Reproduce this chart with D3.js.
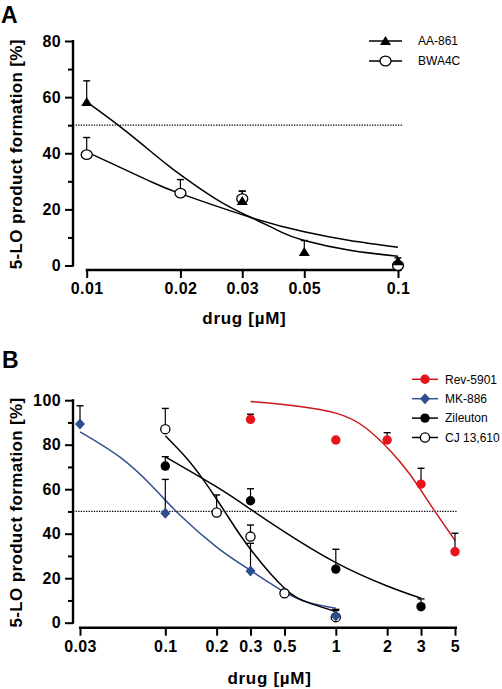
<!DOCTYPE html>
<html><head><meta charset="utf-8">
<script src="https://cdn.jsdelivr.net/npm/d3@7"></script>
<style>
body{margin:0;background:#fff;}
svg{display:block;font-family:"Liberation Sans",Arial,sans-serif;}
.tick text{font-weight:bold;font-size:16px;fill:#000;letter-spacing:0.4px;}
</style></head><body>
<svg id="chart" width="502" height="689"></svg>
<script>
// ---------- Panel A data ----------
const aTickVals = [0.01, 0.02, 0.0316, 0.05, 0.1];
const aTickLabels = ["0.01", "0.02", "0.03", "0.05", "0.1"];
const aYMajor = [0, 20, 40, 60, 80];
const aYMinor = [10, 30, 50, 70];
const aSeriesNames = ["AA-861", "BWA4C"];
// points: [x, mean, top of error bar]
const aa861Pts = [[0.01, 58.3, 65.8], [0.0316, 23.0, 26.5], [0.05, 4.8, 8.9], [0.1, 1.5, 2.7]];
const bwa4cPts = [[0.01, 39.5, 45.6], [0.02, 25.8, 30.6], [0.0316, 23.8, 26.5], [0.1, 0, 0]];
// fitted curves
const aa861Fit = [[0.01, 58.3], [0.0128, 49.5], [0.016, 40.8], [0.019, 34.2], [0.0262, 23.5], [0.0335, 17.3], [0.042, 12.0], [0.05, 8.9], [0.07, 5.4], [0.1, 3.3]];
const bwa4cFit = [[0.01, 40.5], [0.016, 30], [0.02, 25.6], [0.0335, 17.2], [0.05, 12], [0.07, 8.9], [0.1, 6.5]];

// ---------- Panel B data ----------
const bTickVals = [0.0316, 0.1, 0.2, 0.316, 0.5, 1, 2, 3.16, 5];
const bTickLabels = ["0.03", "0.1", "0.2", "0.3", "0.5", "1", "2", "3", "5"];
const bYMajor = [0, 20, 40, 60, 80, 100];
const bYMinor = [10, 30, 50, 70, 90];
const bSeriesNames = ["Rev-5901", "MK-886", "Zileuton", "CJ 13,610"];
const revPts = [[0.316, 91.4, 93.7], [1, 82.1, 82.1], [2, 82.1, 85.4], [3.16, 62.3, 69.4], [5, 31.9, 40.2]];
const mkPts = [[0.0316, 89.3, 97.5], [0.1, 49.2, 64.4], [0.316, 23.2, 35.7], [1, 3.0, 6.0]];
const zilPts = [[0.1, 70.4, 74.6], [0.316, 54.8, 60.2], [1, 24.1, 33.0], [3.16, 7.2, 10.7]];
const cjPts = [[0.1, 87.0, 96.3], [0.2, 49.5, 57.4], [0.316, 38.7, 43.9], [0.5, 13.2, 13.2], [1, 2.5, 5.5]];
const revFit = [[0.316, 99.4], [0.615, 97.2], [1, 94.2], [1.5, 87.5], [2.37, 72.5], [3.1, 60.5], [3.7, 51.5], [5, 37]];
const mkFit = [[0.0316, 85.8], [0.054, 74.5], [0.0846, 61], [0.1213, 48.5], [0.2, 34], [0.316, 23.5], [0.5, 13.8], [0.7, 9], [1, 6.5]];
const zilFit = [[0.1, 74.5], [0.2, 61], [0.316, 51], [0.5, 40.8], [1, 27], [2, 16.5], [3.16, 11]];
const cjFit = [[0.1, 84], [0.133, 74], [0.166, 64.5], [0.2, 55.5], [0.2386, 46.5], [0.316, 33], [0.5, 15.5], [0.7, 8.8], [1, 5]];

const RED = "#e8141c", RED_LINE = "#cc1717", BLUE = "#2f4c8f", BLUE_LINE = "#34518f";

const svg = d3.select("#chart");

function drawMarker(g, type, cx, cy, color) {
  if (type === "tri") {
    g.append("path").attr("d", `M${cx - 5.5},${cy + 4}L${cx + 5.5},${cy + 4}L${cx},${cy - 5}Z`).attr("fill", "#000");
  } else if (type === "oval") {
    g.append("ellipse").attr("cx", cx).attr("cy", cy).attr("rx", 5.5).attr("ry", 4.8)
      .attr("fill", "#fff").attr("stroke", "#000").attr("stroke-width", 1.3);
  } else if (type === "dot") {
    g.append("circle").attr("cx", cx).attr("cy", cy).attr("r", 4.7).attr("fill", color);
  } else if (type === "open") {
    g.append("circle").attr("cx", cx).attr("cy", cy).attr("r", 4.6)
      .attr("fill", "#fff").attr("stroke", "#000").attr("stroke-width", 1.3);
  } else if (type === "diamond") {
    g.append("path").attr("d", `M${cx},${cy - 5.5}L${cx + 5},${cy}L${cx},${cy + 5.5}L${cx - 5},${cy}Z`).attr("fill", color);
  }
}

function drawPanel(cfg) {
  const g = svg.append("g");
  const x = d3.scaleLog().domain(cfg.xDomain).range(cfg.xRange);
  const y = d3.scaleLinear().domain(cfg.yDomain).range(cfg.yRange);

  // dotted 50% line
  g.append("line").attr("x1", cfg.yAxisX).attr("x2", cfg.dotEnd)
    .attr("y1", y(50)).attr("y2", y(50))
    .attr("stroke", "#000").attr("stroke-width", 1.2).attr("stroke-dasharray", "1.3,1.3");

  // y axis
  const ya = g.append("g").attr("transform", `translate(${cfg.yAxisX},0)`)
    .call(d3.axisLeft(y).tickValues(cfg.yMajor).tickSize(8).tickPadding(4).tickFormat(d3.format("d")));
  ya.select(".domain").remove();
  ya.selectAll(".tick line").attr("stroke-width", 2);
  const yMin = g.append("g").attr("transform", `translate(${cfg.yAxisX},0)`)
    .call(d3.axisLeft(y).tickValues(cfg.yMinor).tickSize(5).tickFormat(""));
  yMin.select(".domain").remove();
  yMin.selectAll(".tick line").attr("stroke-width", 2);
  g.append("line").attr("x1", cfg.yAxisX).attr("x2", cfg.yAxisX)
    .attr("y1", y(cfg.yDomain[1]) - 1).attr("y2", y(cfg.yDomain[0]) + 1)
    .attr("stroke", "#000").attr("stroke-width", 2.4);

  // x axis
  const xa = g.append("g").attr("transform", `translate(0,${cfg.xAxisY})`)
    .call(d3.axisBottom(x).tickValues(cfg.xTicks).tickSize(8).tickPadding(5)
      .tickFormat((d, i) => cfg.xLabels[i]));
  xa.select(".domain").remove();
  xa.selectAll(".tick line").attr("stroke-width", 2);
  g.append("line").attr("x1", cfg.xRange[0] - 1).attr("x2", cfg.xAxisEnd)
    .attr("y1", cfg.xAxisY).attr("y2", cfg.xAxisY)
    .attr("stroke", "#000").attr("stroke-width", 2.4);

  // titles
  g.append("text").attr("transform", `translate(22,${(y(cfg.yDomain[0]) + y(cfg.yDomain[1])) / 2 + 1}) rotate(-90)`)
    .attr("text-anchor", "middle").attr("font-weight", "bold").attr("font-size", 17)
    .attr("letter-spacing", 0.35)
    .text("5-LO product formation [%]");
  g.append("text").attr("x", (cfg.xRange[0] + cfg.xRange[1]) / 2 + 2).attr("y", cfg.xTitleY)
    .attr("text-anchor", "middle").attr("font-weight", "bold").attr("font-size", 17)
    .attr("letter-spacing", 0.7)
    .text("drug [µM]");
  g.append("text").attr("x", cfg.letterX).attr("y", cfg.letterY)
    .attr("font-weight", "bold").attr("font-size", 23).text(cfg.letter);

  const line = d3.line().x(d => x(d[0])).y(d => y(d[1])).curve(d3.curveNatural);

  cfg.series.forEach(s => {
    g.append("path").datum(s.fit).attr("d", line).attr("fill", "none")
      .attr("stroke", s.lineColor).attr("stroke-width", 1.5);
  });
  cfg.markerOrder.forEach(i => {
    const s = cfg.series[i];
    s.pts.filter(p => p[2] > p[1] + 0.3).forEach(p => {
      g.append("line").attr("x1", x(p[0])).attr("x2", x(p[0])).attr("y1", y(p[1])).attr("y2", y(p[2]))
        .attr("stroke", "#000").attr("stroke-width", 1.2);
      g.append("line").attr("x1", x(p[0]) - 3.5).attr("x2", x(p[0]) + 3.5).attr("y1", y(p[2])).attr("y2", y(p[2]))
        .attr("stroke", "#000").attr("stroke-width", 1.4);
    });
  });
  cfg.markerOrder.forEach(i => {
    const s = cfg.series[i];
    s.pts.forEach(p => drawMarker(g, s.marker, x(p[0]), y(p[1]), s.color));
  });

  // legend
  cfg.series.forEach((s, i) => {
    const ly = cfg.legY + i * cfg.legStep;
    g.append("line").attr("x1", cfg.legX1).attr("x2", cfg.legX2).attr("y1", ly).attr("y2", ly)
      .attr("stroke", s.lineColor).attr("stroke-width", 1.5);
    drawMarker(g, s.marker, (cfg.legX1 + cfg.legX2) / 2, ly, s.color);
    g.append("text").attr("x", cfg.legTextX).attr("y", ly).attr("dy", "0.36em")
      .attr("font-size", cfg.legFont).text(s.name);
  });
}

drawPanel({
  letter: "A", letterX: 1, letterY: 23,
  xDomain: [0.01, 0.1], xRange: [86.7, 398], xAxisY: 270, xAxisEnd: 401.5,
  xTicks: aTickVals, xLabels: aTickLabels, xTitleY: 324,
  yDomain: [0, 80], yRange: [265.5, 41], yAxisX: 73, yMajor: aYMajor, yMinor: aYMinor,
  dotEnd: 403,
  series: [
    { name: aSeriesNames[0], marker: "tri", color: "#000", lineColor: "#000", pts: aa861Pts, fit: aa861Fit },
    { name: aSeriesNames[1], marker: "oval", color: "#000", lineColor: "#000", pts: bwa4cPts, fit: bwa4cFit }
  ],
  markerOrder: [1, 0],
  legY: 41, legStep: 20, legX1: 369, legX2: 402, legTextX: 418, legFont: 12
});

drawPanel({
  letter: "B", letterX: 2, letterY: 368,
  xDomain: [0.0316, 5], xRange: [80, 455], xAxisY: 627.7, xAxisEnd: 457,
  xTicks: bTickVals, xLabels: bTickLabels, xTitleY: 684,
  yDomain: [0, 100], yRange: [622.7, 400.2], yAxisX: 73, yMajor: bYMajor, yMinor: bYMinor,
  dotEnd: 457,
  series: [
    { name: bSeriesNames[0], marker: "dot", color: RED, lineColor: RED_LINE, pts: revPts, fit: revFit },
    { name: bSeriesNames[1], marker: "diamond", color: BLUE, lineColor: BLUE_LINE, pts: mkPts, fit: mkFit },
    { name: bSeriesNames[2], marker: "dot", color: "#000", lineColor: "#000", pts: zilPts, fit: zilFit },
    { name: bSeriesNames[3], marker: "open", color: "#000", lineColor: "#000", pts: cjPts, fit: cjFit }
  ],
  markerOrder: [3, 2, 1, 0],
  legY: 379.3, legStep: 19.4, legX1: 412, legX2: 438, legTextX: 445, legFont: 12
});
</script>
</body></html>
